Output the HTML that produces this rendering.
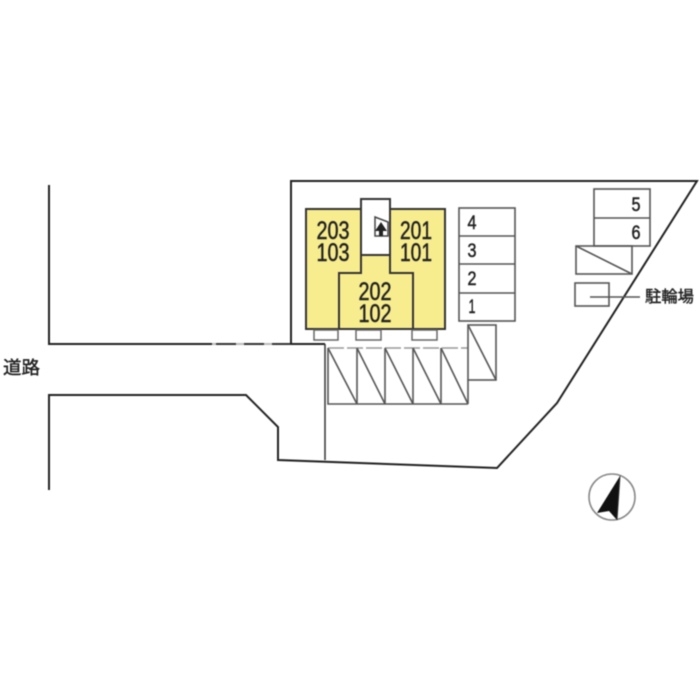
<!DOCTYPE html>
<html>
<head>
<meta charset="utf-8">
<style>
html,body{margin:0;padding:0;background:#fff;width:700px;height:700px;overflow:hidden}
svg{display:block;filter:blur(0.4px)}
text{font-family:"Liberation Sans","Noto Sans CJK JP",sans-serif;fill:#222}
</style>
</head>
<body>
<svg width="700" height="700" viewBox="0 0 700 700" xmlns="http://www.w3.org/2000/svg">
<rect width="700" height="700" fill="#fff"/>
<!-- road & site boundary -->
<g fill="none" stroke="#222" stroke-width="2">
<path d="M49 185V344H212"/>
<path d="M212 344H291" stroke="#bbb"/>
<path d="M216 344H291" stroke-dasharray="20 8" stroke="#333"/>
<path d="M291 344V181H697L557 403L497 468L278 460V427L246 395H49V490"/>
<path d="M291 344H325"/>
</g>
<path d="M325 344V460" fill="none" stroke="#333" stroke-width="1.5"/>
<!-- building -->
<rect x="306" y="209" width="139" height="120" fill="#f7ec8e" stroke="#333" stroke-width="2"/>
<rect x="361" y="199" width="29" height="56" fill="#fff" stroke="#333" stroke-width="2"/>
<path d="M361 255V273H339V329M390 255V273H413V329" fill="none" stroke="#333" stroke-width="2"/>
<!-- stair icon -->
<path d="M375 217L388 222V236H375Z" fill="#fff" stroke="#444" stroke-width="1.5"/>
<path d="M381 222L387 231H383V236H379V231H375Z" fill="#222"/>
<!-- balconies -->
<g fill="#fff" stroke="#666" stroke-width="1.5">
<rect x="314" y="330" width="24" height="10"/>
<rect x="356" y="330" width="25" height="10"/>
<rect x="412" y="330" width="25" height="10"/>
</g>
<!-- parking 1-4 -->
<g fill="none" stroke="#555" stroke-width="1.6">
<rect x="459" y="208" width="56" height="113"/>
<path d="M459 236H515M459 264H515M459 293H515"/>
<!-- angled parking -->
<path d="M328 348V404H468M468 404V380"/>
<path d="M328 348H468" stroke="#999" stroke-dasharray="16 3"/>
<path d="M357 348V404M385 348V404M413 348V404M441 348V404"/>
<path d="M328 348L357 404M357 348L385 404M385 348L413 404M413 348L441 404M441 348L468 404"/>
<rect x="468" y="325" width="28" height="55"/>
<path d="M468 325L496 380"/>
<!-- 5,6 -->
<rect x="594" y="189" width="56" height="57"/>
<path d="M594 218H650"/>
<rect x="576" y="246" width="56" height="28"/>
<path d="M576 246L632 274"/>
<rect x="575" y="283" width="34" height="23"/>
<path d="M590 297H640"/>
</g>
<!-- labels -->
<g font-size="25" text-anchor="middle" stroke="#222" stroke-width="0.5">
<text x="333" y="239" textLength="33" lengthAdjust="spacingAndGlyphs">203</text>
<text x="333" y="261" textLength="33" lengthAdjust="spacingAndGlyphs">103</text>
<text x="416" y="239" textLength="32" lengthAdjust="spacingAndGlyphs">201</text>
<text x="416" y="261" textLength="32" lengthAdjust="spacingAndGlyphs">101</text>
<text x="375" y="300" textLength="33" lengthAdjust="spacingAndGlyphs">202</text>
<text x="375" y="322" textLength="33" lengthAdjust="spacingAndGlyphs">102</text>
</g>
<g font-size="19" text-anchor="middle" stroke="#222" stroke-width="0.5">
<text x="472" y="229" textLength="9" lengthAdjust="spacingAndGlyphs">4</text>
<text x="472" y="257" textLength="9" lengthAdjust="spacingAndGlyphs">3</text>
<text x="472" y="285" textLength="9" lengthAdjust="spacingAndGlyphs">2</text>
<text x="472" y="313" textLength="7" lengthAdjust="spacingAndGlyphs">1</text>
<text x="636" y="211" textLength="9" lengthAdjust="spacingAndGlyphs">5</text>
<text x="636" y="239" textLength="9" lengthAdjust="spacingAndGlyphs">6</text>
</g>
<text x="645" y="302" font-size="16" textLength="49" lengthAdjust="spacingAndGlyphs" stroke="#222" stroke-width="0.4">駐輪場</text>
<text x="3" y="374" font-size="18" textLength="37" lengthAdjust="spacingAndGlyphs" stroke="#222" stroke-width="0.4">道路</text>
<!-- compass -->
<circle cx="612" cy="497" r="23" fill="#fff" stroke="#888" stroke-width="1.6"/>
<path d="M620 476L597 513L609 511L617 520Z" fill="#111"/>
<path d="M620 476L617 520" stroke="#333" stroke-width="1" fill="none"/>
</svg>
</body>
</html>
